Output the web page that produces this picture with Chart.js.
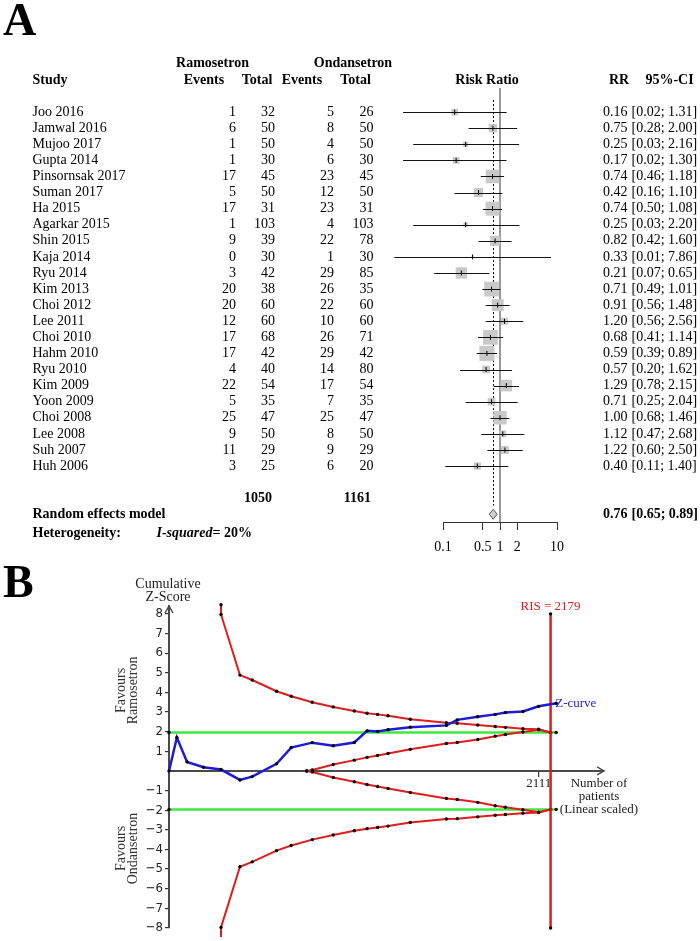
<!DOCTYPE html>
<html><head><meta charset="utf-8">
<script src="https://cdn.jsdelivr.net/npm/chart.js@4.4.1/dist/chart.umd.min.js"></script>
<style>
html,body{margin:0;padding:0;background:#fff;}
#wrap{position:relative;width:700px;height:941px;overflow:hidden;background:#fff;}
canvas{position:absolute;left:0;}
#cA{top:0;width:700px;height:560px;}
#cB{top:560px;width:700px;height:381px;}
</style></head><body>
<div id="wrap"><canvas id="cA" width="700" height="560"></canvas><canvas id="cB" width="700" height="381"></canvas></div>
<script>
// ---------- Panel A data ----------
const studies = ["Joo 2016","Jamwal 2016","Mujoo 2017","Gupta 2014","Pinsornsak 2017","Suman 2017","Ha 2015","Agarkar 2015","Shin 2015","Kaja 2014","Ryu 2014","Kim 2013","Choi 2012","Lee 2011","Choi 2010","Hahm 2010","Ryu 2010","Kim 2009","Yoon 2009","Choi 2008","Lee 2008","Suh 2007","Huh 2006"];
const ramEvents = [1,6,1,1,17,5,17,1,9,0,3,20,20,12,17,17,4,22,5,25,9,11,3];
const ramTotal  = [32,50,50,30,45,50,31,103,39,30,42,38,60,60,68,42,40,54,35,47,50,29,25];
const ondEvents = [5,8,4,6,23,12,23,4,22,1,29,26,22,10,26,29,14,17,7,25,8,9,6];
const ondTotal  = [26,50,50,30,45,50,31,103,78,30,85,35,60,60,71,42,80,54,35,47,50,29,20];
const rr     = [0.16,0.75,0.25,0.17,0.74,0.42,0.74,0.25,0.82,0.33,0.21,0.71,0.91,1.20,0.68,0.59,0.57,1.29,0.71,1.00,1.12,1.22,0.40];
const ciLow  = [0.02,0.28,0.03,0.02,0.46,0.16,0.50,0.03,0.42,0.014,0.07,0.49,0.56,0.56,0.41,0.39,0.20,0.78,0.25,0.68,0.47,0.60,0.11];
const ciHigh = [1.31,2.00,2.16,1.30,1.18,1.10,1.08,2.20,1.60,7.86,0.65,1.01,1.48,2.56,1.14,0.89,1.62,2.15,2.04,1.46,2.68,2.50,1.40];
const weights = [1.9,2.9,1.1,1.9,7.8,3.5,8.4,0.9,4.3,0.3,5.5,9.2,6.1,2.1,9.2,9.6,2.5,5.8,2.5,7.7,2.0,2.7,2.3];
const totals = [1050, 1161];
const pooled = {rr:0.76, lo:0.65, hi:0.89};
const iSquared = "20%";
const groupLabels = ["Ramosetron","Ondansetron"];
const xTicksA = [0.1,0.5,1,2,10];

// ---------- Panel B data ----------
const cumPatients = [0,45,103,197,297,405,475,614,698,818,938,1058,1131,1191,1251,1378,1584,1646,1763,1863,1921,2021,2111,2211];
const zCurve      = [0,1.70,0.46,0.19,0.07,-0.46,-0.29,0.36,1.19,1.44,1.28,1.45,2.04,2.01,2.10,2.23,2.32,2.60,2.76,2.88,2.97,3.03,3.29,3.45];
const boundX      = [297,297,405,475,614,698,818,938,1058,1131,1191,1251,1378,1584,1646,1763,1863,1921,2021,2111,2179];
const boundUpper  = [8.46,7.97,4.88,4.63,4.06,3.80,3.50,3.26,3.05,2.94,2.88,2.81,2.63,2.45,2.43,2.34,2.26,2.22,2.15,2.12,1.96];
const boundLower  = [-8.46,-7.97,-4.88,-4.63,-4.06,-3.80,-3.50,-3.26,-3.05,-2.94,-2.88,-2.81,-2.63,-2.45,-2.43,-2.34,-2.26,-2.22,-2.15,-2.12,-1.96];
const futX        = [786,818,938,1058,1131,1191,1251,1378,1584,1646,1763,1863,1921,2021,2111,2179];
const futUpper    = [0,0.05,0.33,0.55,0.69,0.79,0.89,1.10,1.40,1.45,1.60,1.77,1.85,1.98,2.10,1.96];
const futLower    = [0,-0.05,-0.33,-0.55,-0.69,-0.79,-0.89,-1.10,-1.40,-1.45,-1.60,-1.77,-1.85,-1.98,-2.10,-1.96];
const convZ = 1.96;
const totalPatients = 2211;
const RIS = 2179;
const xTicksB = [2111];
const yTicksB = [-8,-7,-6,-5,-4,-3,-2,-1,1,2,3,4,5,6,7,8];

// ---------- styles ----------
const SERIF = '"Liberation Serif","Times New Roman",Times,serif';
const NARROW = '"Liberation Sans Narrow","Arial Narrow","DejaVu Sans Condensed","Liberation Sans",sans-serif';
const SQUARE_K = 4.845;

// ---------- Panel A ----------
const forestPlugin = {
  id: 'forest',
  beforeDatasetsDraw(chart) {
    const {ctx, chartArea, scales: {x, y}} = chart;
    ctx.save();
    const x1 = Math.round(x.getPixelForValue(1));
    ctx.strokeStyle = '#999'; ctx.lineWidth = 2;
    ctx.beginPath(); ctx.moveTo(x1, chartArea.top); ctx.lineTo(x1, chartArea.bottom); ctx.stroke();
    const xp = Math.round(x.getPixelForValue(pooled.rr)) + 0.5;
    ctx.strokeStyle = '#000'; ctx.lineWidth = 1; ctx.setLineDash([2, 2]);
    ctx.beginPath(); ctx.moveTo(xp, y.getPixelForValue(-0.75)); ctx.lineTo(xp, y.getPixelForValue(24.45)); ctx.stroke();
    ctx.restore();
  },
  afterDatasetsDraw(chart) {
    const {ctx, scales: {x, y}} = chart;
    ctx.save();
    ctx.strokeStyle = '#111'; ctx.lineWidth = 1;
    for (let i = 0; i < studies.length; i++) {
      const yy = Math.round(y.getPixelForValue(i)) + 0.5;
      ctx.beginPath();
      ctx.moveTo(x.getPixelForValue(ciLow[i]), yy);
      ctx.lineTo(x.getPixelForValue(ciHigh[i]), yy);
      ctx.stroke();
    }
    // diamond
    const yd = y.getPixelForValue(25);
    ctx.beginPath();
    ctx.moveTo(x.getPixelForValue(pooled.lo), yd);
    ctx.lineTo(x.getPixelForValue(pooled.rr), yd - 5);
    ctx.lineTo(x.getPixelForValue(pooled.hi), yd);
    ctx.lineTo(x.getPixelForValue(pooled.rr), yd + 5);
    ctx.closePath();
    ctx.fillStyle = '#cfcfcf'; ctx.fill();
    ctx.strokeStyle = '#555'; ctx.stroke();
    ctx.restore();
  },
  afterDraw(chart) {
    const {ctx, scales: {y}} = chart;
    const Y = r => y.getPixelForValue(r);
    ctx.save();
    ctx.fillStyle = '#000';
    ctx.font = 'bold 46px ' + SERIF; ctx.textAlign = 'left'; ctx.textBaseline = 'alphabetic';
    ctx.fillText('A', 3, 35);
    ctx.textBaseline = 'middle';
    ctx.font = 'bold 14px ' + SERIF; ctx.textAlign = 'center';
    ctx.fillText(groupLabels[0], 212.5, Y(-3.05));
    ctx.fillText(groupLabels[1], 353, Y(-3.05));
    ctx.fillText('Events', 204, Y(-2)); ctx.fillText('Total', 257, Y(-2));
    ctx.fillText('Events', 302, Y(-2)); ctx.fillText('Total', 355.5, Y(-2));
    ctx.fillText('Risk Ratio', 487, Y(-2));
    ctx.fillText('RR', 619, Y(-2)); ctx.fillText('95%-CI', 669.5, Y(-2));
    ctx.textAlign = 'left'; ctx.fillText('Study', 32.5, Y(-2));
    ctx.font = '14px ' + SERIF;
    for (let i = 0; i < studies.length; i++) {
      const yy = Y(i);
      ctx.textAlign = 'left'; ctx.fillText(studies[i], 32.5, yy);
      ctx.fillText('[' + ciLow[i].toFixed(2) + '; ' + ciHigh[i].toFixed(2) + ']', 631.5, yy);
      ctx.textAlign = 'right';
      ctx.fillText(String(ramEvents[i]), 236, yy);
      ctx.fillText(String(ramTotal[i]), 275, yy);
      ctx.fillText(String(ondEvents[i]), 334, yy);
      ctx.fillText(String(ondTotal[i]), 373.5, yy);
      ctx.fillText(rr[i].toFixed(2), 627.5, yy);
    }
    ctx.font = 'bold 14px ' + SERIF;
    ctx.textAlign = 'right';
    ctx.fillText(String(totals[0]), 272, Y(24));
    ctx.fillText(String(totals[1]), 371, Y(24));
    ctx.fillText(pooled.rr.toFixed(2), 627.5, Y(25));
    ctx.textAlign = 'left';
    ctx.fillText('[' + pooled.lo.toFixed(2) + '; ' + pooled.hi.toFixed(2) + ']', 631.5, Y(25));
    ctx.fillText('Random effects model', 32.5, Y(25));
    ctx.fillText('Heterogeneity:', 32.5, Y(26.2));
    ctx.font = 'italic bold 14px ' + SERIF;
    ctx.fillText('I-squared', 156.5, Y(26.2));
    const w = ctx.measureText('I-squared').width;
    ctx.font = 'bold 14px ' + SERIF;
    ctx.fillText('= ' + iSquared, 156.5 + w, Y(26.2));
    ctx.restore();
  }
};

new Chart(document.getElementById('cA'), {
  type: 'scatter',
  data: {
    datasets: [
      {
        data: rr.map((v, i) => ({x: v, y: i})),
        pointStyle: 'rect',
        pointRadius: c => Math.sqrt(weights[c.dataIndex]) * SQUARE_K / Math.SQRT2,
        backgroundColor: '#c9c9c9', borderWidth: 0, clip: false, order: 2
      },
      {
        data: rr.map((v, i) => ({x: v, y: i})),
        pointStyle: 'line', rotation: 90, pointRadius: 2.5,
        borderColor: '#000', borderWidth: 1, clip: false, order: 1
      }
    ]
  },
  options: {
    responsive: false, animation: false, events: [],
    layout: {padding: {top: 88, left: 443, right: 143, bottom: 0}},
    plugins: {legend: {display: false}, tooltip: {enabled: false}},
    scales: {
      x: {
        type: 'logarithmic', min: 0.1, max: 10,
        afterBuildTicks(s) { s.ticks = xTicksA.map(v => ({value: v})); },
        afterFit(s) { s.height = 38; },
        grid: {drawOnChartArea: false, drawTicks: true, tickLength: 8, color: '#333', lineWidth: 1},
        border: {display: true, color: '#333', width: 1},
        ticks: {autoSkip: false, maxRotation: 0, padding: 9, color: '#000', font: {family: SERIF, size: 14}, callback: v => String(v)}
      },
      y: {type: 'linear', reverse: true, min: -1.5, max: 25.48, display: false}
    }
  },
  plugins: [forestPlugin]
});

// ---------- Panel B ----------
const tsaPlugin = {
  id: 'tsa',
  afterDraw(chart) {
    const {ctx, chartArea, scales: {x, y}} = chart;
    const x0 = x.getPixelForValue(0), y0 = y.getPixelForValue(0);
    ctx.save();
    // arrows
    ctx.strokeStyle = '#4a4a4a'; ctx.lineWidth = 1.5;
    const ty = chartArea.top;
    ctx.beginPath(); ctx.moveTo(x0 - 4, ty + 7); ctx.lineTo(x0, ty); ctx.lineTo(x0 + 4, ty + 7); ctx.stroke();
    const tx = chartArea.right;
    ctx.beginPath(); ctx.moveTo(tx - 7, y0 - 4); ctx.lineTo(tx, y0); ctx.lineTo(tx - 7, y0 + 4); ctx.stroke();
    // panel letter
    ctx.fillStyle = '#000';
    ctx.font = 'bold 46px ' + SERIF; ctx.textAlign = 'left'; ctx.textBaseline = 'alphabetic';
    ctx.fillText('B', 3, 37);
    ctx.textBaseline = 'middle';
    ctx.font = '14px ' + SERIF; ctx.textAlign = 'center'; ctx.fillStyle = '#222';
    ctx.fillText('Cumulative', x0 - 1, ty - 21.5);
    ctx.fillText('Z-Score', x0 - 1, ty - 9);
    const vtext = (s, cx, cy) => { ctx.save(); ctx.translate(cx, cy); ctx.rotate(-Math.PI / 2); ctx.fillText(s, 0, 0); ctx.restore(); };
    ctx.fillStyle = '#333';
    vtext('Favours', 121, y.getPixelForValue(4.1));
    vtext(groupLabels[0], 133.5, y.getPixelForValue(4.1));
    vtext('Favours', 121, y.getPixelForValue(-3.95));
    vtext(groupLabels[1], 133.5, y.getPixelForValue(-3.95));
    // RIS label
    ctx.font = '13px ' + SERIF; ctx.fillStyle = '#d42020';
    ctx.fillText('RIS = ' + RIS, x.getPixelForValue(RIS), y.getPixelForValue(8) - 7.5);
    // Z-curve label
    ctx.fillStyle = '#1c1cd8'; ctx.textAlign = 'left';
    ctx.fillText('Z-curve', x.getPixelForValue(totalPatients) - 1, y.getPixelForValue(zCurve[zCurve.length - 1]));
    // x axis title
    ctx.fillStyle = '#222'; ctx.textAlign = 'center';
    const cx = chartArea.right - 5;
    ctx.fillText('Number of', cx, y0 + 12.5);
    ctx.fillText('patients', cx, y0 + 25.5);
    ctx.fillText('(Linear scaled)', cx, y0 + 38.5);
    ctx.restore();
  }
};

const dot = {pointRadius: 1.7, pointBackgroundColor: '#000', pointBorderWidth: 0, showLine: true, tension: 0, clip: false};
const RED = '#e21b1b';
new Chart(document.getElementById('cB'), {
  type: 'scatter',
  data: {
    datasets: [
      Object.assign({data: [{x: 0, y: convZ}, {x: totalPatients, y: convZ}], borderColor: '#3fe83f', borderWidth: 2.5, order: 5}, dot),
      Object.assign({data: [{x: 0, y: -convZ}, {x: totalPatients, y: -convZ}], borderColor: '#3fe83f', borderWidth: 2.5, order: 5}, dot),
      Object.assign({data: boundX.map((v, i) => ({x: v, y: boundUpper[i]})), borderColor: RED, borderWidth: 2, order: 4}, dot),
      Object.assign({data: boundX.map((v, i) => ({x: v, y: boundLower[i]})), borderColor: RED, borderWidth: 2, order: 4}, dot),
      Object.assign({data: futX.map((v, i) => ({x: v, y: futUpper[i]})), borderColor: RED, borderWidth: 2, order: 4}, dot),
      Object.assign({data: futX.map((v, i) => ({x: v, y: futLower[i]})), borderColor: RED, borderWidth: 2, order: 4}, dot),
      Object.assign({data: [{x: RIS, y: 8}, {x: RIS, y: -8}], borderColor: '#d62020', borderWidth: 2.5, order: 3}, dot),
      Object.assign({data: cumPatients.map((v, i) => ({x: v, y: zCurve[i]})), borderColor: '#1c1cd8', borderWidth: 2.5, order: 1}, dot)
    ]
  },
  options: {
    responsive: false, animation: false, events: [],
    layout: {padding: {top: 46, left: 129, right: 96, bottom: 13}},
    plugins: {legend: {display: false}, tooltip: {enabled: false}},
    scales: {
      x: {
        type: 'linear', min: 0, max: 2484, position: {y: 0},
        afterBuildTicks(s) { s.ticks = xTicksB.map(v => ({value: v})); },
        grid: {drawOnChartArea: false, drawTicks: true, tickLength: 5, color: '#333', lineWidth: 1.2},
        border: {display: true, color: '#4a4a4a', width: 2},
        ticks: {autoSkip: false, maxRotation: 0, padding: 0, color: '#222', font: {family: SERIF, size: 13}, callback: v => String(v)}
      },
      y: {
        type: 'linear', min: -8, max: 8.4, position: 'left',
        afterBuildTicks(s) { s.ticks = yTicksB.map(v => ({value: v})); },
        afterFit(s) { s.width = 40; },
        grid: {drawOnChartArea: false, drawTicks: true, tickLength: 4, color: '#333', lineWidth: 1.2},
        border: {display: true, color: '#4a4a4a', width: 2},
        ticks: {autoSkip: false, padding: 2, color: '#222', font: {family: NARROW, size: 13},
                callback: v => (v < 0 ? '\u2212' + Math.abs(v) : String(v))}
      }
    }
  },
  plugins: [tsaPlugin]
});
</script>
</body></html>
